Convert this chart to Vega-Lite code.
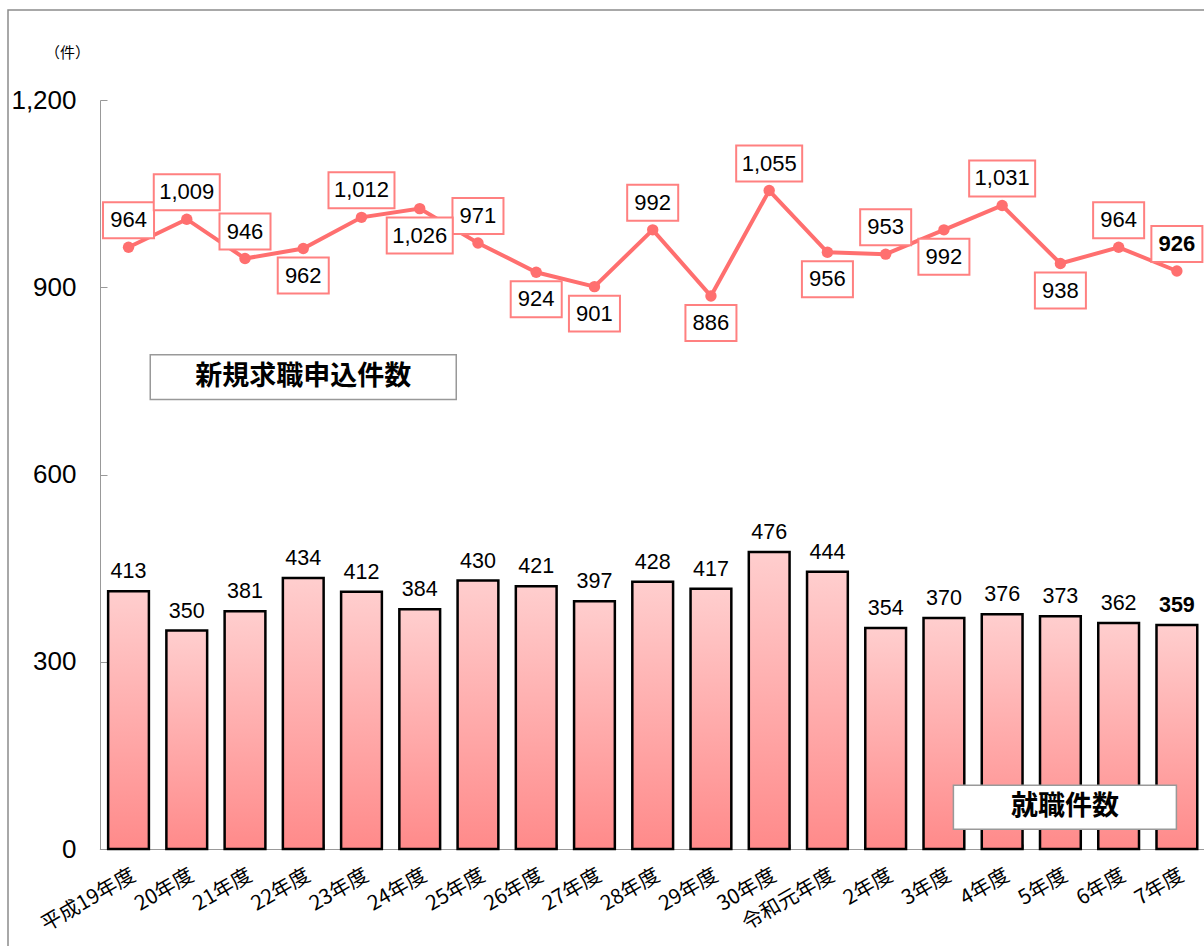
{
  "$schema": "https://vega.github.io/schema/vega-lite/v6.json",
  "width": 1204,
  "height": 940,
  "autosize": {"type": "none"},
  "padding": {"left": 8, "top": 10, "right": 0, "bottom": 0},
  "background": "white",
  "config": {"view": {"stroke": "#8c8c8c", "strokeWidth": 1.5}, "axis": {"grid": false}},
  "datasets": {
    "main": [
      {"year": "平成19年度", "apply": 964, "hired": 413},
      {"year": "20年度", "apply": 1009, "hired": 350},
      {"year": "21年度", "apply": 946, "hired": 381},
      {"year": "22年度", "apply": 962, "hired": 434},
      {"year": "23年度", "apply": 1012, "hired": 412},
      {"year": "24年度", "apply": 1026, "hired": 384},
      {"year": "25年度", "apply": 971, "hired": 430},
      {"year": "26年度", "apply": 924, "hired": 421},
      {"year": "27年度", "apply": 901, "hired": 397},
      {"year": "28年度", "apply": 992, "hired": 428},
      {"year": "29年度", "apply": 886, "hired": 417},
      {"year": "30年度", "apply": 1055, "hired": 476},
      {"year": "令和元年度", "apply": 956, "hired": 444},
      {"year": "2年度", "apply": 953, "hired": 354},
      {"year": "3年度", "apply": 992, "hired": 370},
      {"year": "4年度", "apply": 1031, "hired": 376},
      {"year": "5年度", "apply": 938, "hired": 373},
      {"year": "6年度", "apply": 964, "hired": 362},
      {"year": "7年度", "apply": 926, "hired": 359}
    ]
  },
  "encoding": {
    "x": {
      "field": "year", "type": "nominal", "sort": null,
      "scale": {
        "domain": ["平成19年度","20年度","21年度","22年度","23年度","24年度","25年度","26年度","27年度","28年度","29年度","30年度","令和元年度","2年度","3年度","4年度","5年度","6年度","7年度"],
        "range": [91.4, 1198], "paddingInner": 0.3, "paddingOuter": 0.15
      },
      "axis": {
        "title": null, "labelAngle": -30, "labelAlign": "right", "labelBaseline": "top",
        "labelFont": "Noto Sans CJK JP", "labelFontSize": 20.5, "labelColor": "black",
        "domainColor": "#999", "tickColor": "#999", "tickBand": "extent", "tickSize": -5,
        "labelPadding": 21, "offset": -101
      }
    },
    "y": {
      "type": "quantitative",
      "scale": {"domain": [0, 1200], "range": [839, 90], "nice": false},
      "axis": {
        "values": [0, 300, 600, 900, 1200], "format": ",d",
        "title": "（件）", "titleAngle": 0, "titleX": -33, "titleY": 42,
        "titleAlign": "center", "titleBaseline": "middle",
        "titleFont": "Noto Sans CJK JP", "titleFontSize": 15, "titleFontWeight": "normal", "titleColor": "black",
        "labelFont": "Liberation Sans", "labelFontSize": 26, "labelColor": "black",
        "labelPadding": 31, "tickSize": -7, "tickColor": "#999", "domainColor": "#999",
        "offset": -92
      }
    }
  },
  "layer": [
    {
      "data": {"name": "main"},
      "mark": {
        "type": "bar", "stroke": "black", "strokeWidth": 2.5,
        "color": {"gradient": "linear", "x1": 0, "y1": 0, "x2": 0, "y2": 1,
          "stops": [{"offset": 0, "color": "#ffcece"}, {"offset": 1, "color": "#ff8a8a"}]}
      },
      "encoding": {"y": {"field": "hired"}}
    },
    {
      "data": {"name": "main"},
      "transform": [{"filter": "datum.year !== '7年度'"}],
      "mark": {"type": "text", "baseline": "alphabetic", "dy": -13, "font": "Liberation Sans", "fontSize": 21.5, "color": "black"},
      "encoding": {
        "y": {"field": "hired"},
        "text": {"field": "hired", "type": "quantitative", "format": ",d"}
      }
    },
    {
      "data": {"name": "main"},
      "transform": [{"filter": "datum.year === '7年度'"}],
      "mark": {"type": "text", "baseline": "alphabetic", "dy": -13, "font": "Liberation Sans", "fontSize": 21.5, "fontWeight": "bold", "color": "black"},
      "encoding": {
        "y": {"field": "hired"},
        "text": {"field": "hired", "type": "quantitative", "format": ",d"}
      }
    },
    {
      "data": {"name": "main"},
      "mark": {"type": "line", "color": "#ff6f6f", "strokeWidth": 4,
        "point": {"filled": true, "size": 130, "color": "#ff6f6f", "opacity": 1}},
      "encoding": {"y": {"field": "apply"}}
    },
    {
      "data": {"name": "main"},
      "transform": [{"filter": {"field": "year", "oneOf": ["平成19年度","20年度","21年度","23年度","25年度","28年度","30年度","2年度","4年度","6年度","7年度"]}}],
      "mark": {"type": "point", "filled": false, "fill": "white", "stroke": "#ff8080", "strokeWidth": 2, "opacity": 1, "size": 4356, "yOffset": -27},
      "encoding": {
        "y": {"field": "apply"},
        "shape": {"condition": {"test": "datum.apply >= 1000", "value": "M-1,-0.545H1V0.545H-1Z"}, "value": "M-0.773,-0.545H0.773V0.545H-0.773Z"}
      }
    },
    {
      "data": {"name": "main"},
      "transform": [{"filter": {"field": "year", "oneOf": ["22年度","24年度","26年度","27年度","29年度","令和元年度","3年度","5年度"]}}],
      "mark": {"type": "point", "filled": false, "fill": "white", "stroke": "#ff8080", "strokeWidth": 2, "opacity": 1, "size": 4356, "yOffset": 27},
      "encoding": {
        "y": {"field": "apply"},
        "shape": {"condition": {"test": "datum.apply >= 1000", "value": "M-1,-0.545H1V0.545H-1Z"}, "value": "M-0.773,-0.545H0.773V0.545H-0.773Z"}
      }
    },
    {
      "data": {"name": "main"},
      "transform": [{"filter": {"field": "year", "oneOf": ["平成19年度","20年度","21年度","23年度","25年度","28年度","30年度","2年度","4年度","6年度"]}}],
      "mark": {"type": "text", "baseline": "middle", "yOffset": -27, "font": "Liberation Sans", "fontSize": 22, "color": "black"},
      "encoding": {
        "y": {"field": "apply"},
        "text": {"field": "apply", "type": "quantitative", "format": ",d"}
      }
    },
    {
      "data": {"name": "main"},
      "transform": [{"filter": {"field": "year", "oneOf": ["22年度","24年度","26年度","27年度","29年度","令和元年度","3年度","5年度"]}}],
      "mark": {"type": "text", "baseline": "middle", "yOffset": 27, "font": "Liberation Sans", "fontSize": 22, "color": "black"},
      "encoding": {
        "y": {"field": "apply"},
        "text": {"field": "apply", "type": "quantitative", "format": ",d"}
      }
    },
    {
      "data": {"name": "main"},
      "transform": [{"filter": "datum.year === '7年度'"}],
      "mark": {"type": "text", "baseline": "middle", "yOffset": -27, "font": "Liberation Sans", "fontSize": 22, "fontWeight": "bold", "color": "black"},
      "encoding": {
        "y": {"field": "apply"},
        "text": {"field": "apply", "type": "quantitative", "format": ",d"}
      }
    },
    {
      "data": {"values": [{"year": "22年度", "apply": 756, "label": "新規求職申込件数"}]},
      "mark": {"type": "point", "filled": false, "fill": "white", "stroke": "#999", "strokeWidth": 1.5, "opacity": 1, "size": 93636, "shape": "M-1,-0.147H1V0.147H-1Z"},
      "encoding": {"y": {"field": "apply"}}
    },
    {
      "data": {"values": [{"year": "22年度", "apply": 756, "label": "新規求職申込件数"}]},
      "mark": {"type": "text", "baseline": "middle", "font": "Noto Sans CJK JP", "fontSize": 27, "fontWeight": "bold", "color": "black"},
      "encoding": {"y": {"field": "apply"}, "text": {"field": "label"}}
    },
    {
      "data": {"values": [{"year": "5年度", "hired": 67, "label": "就職件数"}]},
      "mark": {"type": "point", "filled": false, "fill": "white", "stroke": "#999", "strokeWidth": 1.5, "opacity": 1, "size": 49729, "shape": "M-1,-0.197H1V0.197H-1Z", "xOffset": 4.5},
      "encoding": {"y": {"field": "hired"}}
    },
    {
      "data": {"values": [{"year": "5年度", "hired": 67, "label": "就職件数"}]},
      "mark": {"type": "text", "baseline": "middle", "font": "Noto Sans CJK JP", "fontSize": 27, "fontWeight": "bold", "color": "black", "xOffset": 4.5},
      "encoding": {"y": {"field": "hired"}, "text": {"field": "label"}}
    }
  ]
}
